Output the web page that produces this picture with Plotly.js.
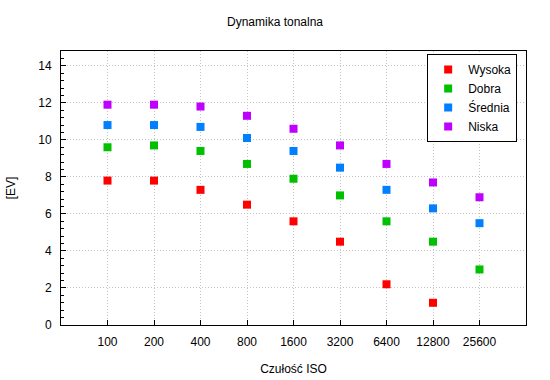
<!DOCTYPE html>
<html>
<head>
<meta charset="utf-8">
<script src="https://cdn.plot.ly/plotly-3.0.1.min.js"></script>
<style>html,body{margin:0;padding:0;background:#fff;}#chart{width:550px;height:380px;}</style>
</head>
<body>
<div id="chart"></div>
<script>
const isoLabels = ["100","200","400","800","1600","3200","6400","12800","25600"];
const seriesNames = ["Wysoka","Dobra","Średnia","Niska"];
const wysoka = [7.8, 7.8, 7.3, 6.5, 5.6, 4.5, 2.2, 1.2, null];
const dobra = [9.6, 9.7, 9.4, 8.7, 7.9, 7.0, 5.6, 4.5, 3.0];
const srednia = [10.8, 10.8, 10.7, 10.1, 9.4, 8.5, 7.3, 6.3, 5.5];
const niska = [11.9, 11.9, 11.8, 11.3, 10.6, 9.7, 8.7, 7.7, 6.9];
const colors = ["#ff0000","#00c000","#0080ff","#c000ff"];

const xIdx = isoLabels.map((_, i) => i);
const allSeries = [wysoka, dobra, srednia, niska];
const traces = allSeries.map((ys, k) => ({
  type: "scatter",
  mode: "markers",
  name: seriesNames[k],
  x: xIdx,
  y: ys,
  marker: {symbol: "square", size: 8, color: colors[k]}
}));

const font = {family: "Liberation Sans, Arial, sans-serif", size: 12, color: "#000"};
const layout = {
  width: 550, height: 380,
  margin: {l: 61, r: 24, t: 51, b: 55},
  paper_bgcolor: "#fff", plot_bgcolor: "#fff",
  font: font,
  title: {text: "Dynamika tonalna", x: 0.5, xanchor: "center", y: 0.955, yanchor: "top", font: {family: font.family, size: 12, color: "#000"}},
  xaxis: {
    range: [-1, 9],
    tickmode: "array", tickvals: xIdx, ticktext: isoLabels,
    ticks: "inside", ticklen: 5, tickcolor: "#000",
    ticklabelstandoff: 6,
    showline: true, linecolor: "#000", linewidth: 1, mirror: true,
    showgrid: true, gridcolor: "#c4c4c4", griddash: "1px,2px", gridwidth: 1,
    zeroline: false,
    title: {text: "Czułość ISO", standoff: 16, font: {size: 12}}
  },
  yaxis: {
    range: [0, 14.8],
    tickmode: "linear", tick0: 0, dtick: 2,
    ticks: "inside", ticklen: 5, tickcolor: "#000",
    ticklabelstandoff: 6,
    minor: {dtick: 0.4, ticks: "inside", ticklen: 3, tickcolor: "#000", showgrid: false},
    showline: true, linecolor: "#000", linewidth: 1, mirror: true,
    showgrid: true, gridcolor: "#c4c4c4", griddash: "1px,2px", gridwidth: 1,
    zeroline: false,
    title: {text: "[EV]", standoff: 20, font: {size: 12}}
  },
  showlegend: true,
  legend: {
    x: 0.981, y: 0.989, xanchor: "right", yanchor: "top",
    bgcolor: "#fff", bordercolor: "#000", borderwidth: 1,
    font: {size: 12}, tracegroupgap: 0, itemwidth: 30
  }
};

Plotly.newPlot("chart", traces, layout, {displayModeBar: false, staticPlot: true});
</script>
</body>
</html>
